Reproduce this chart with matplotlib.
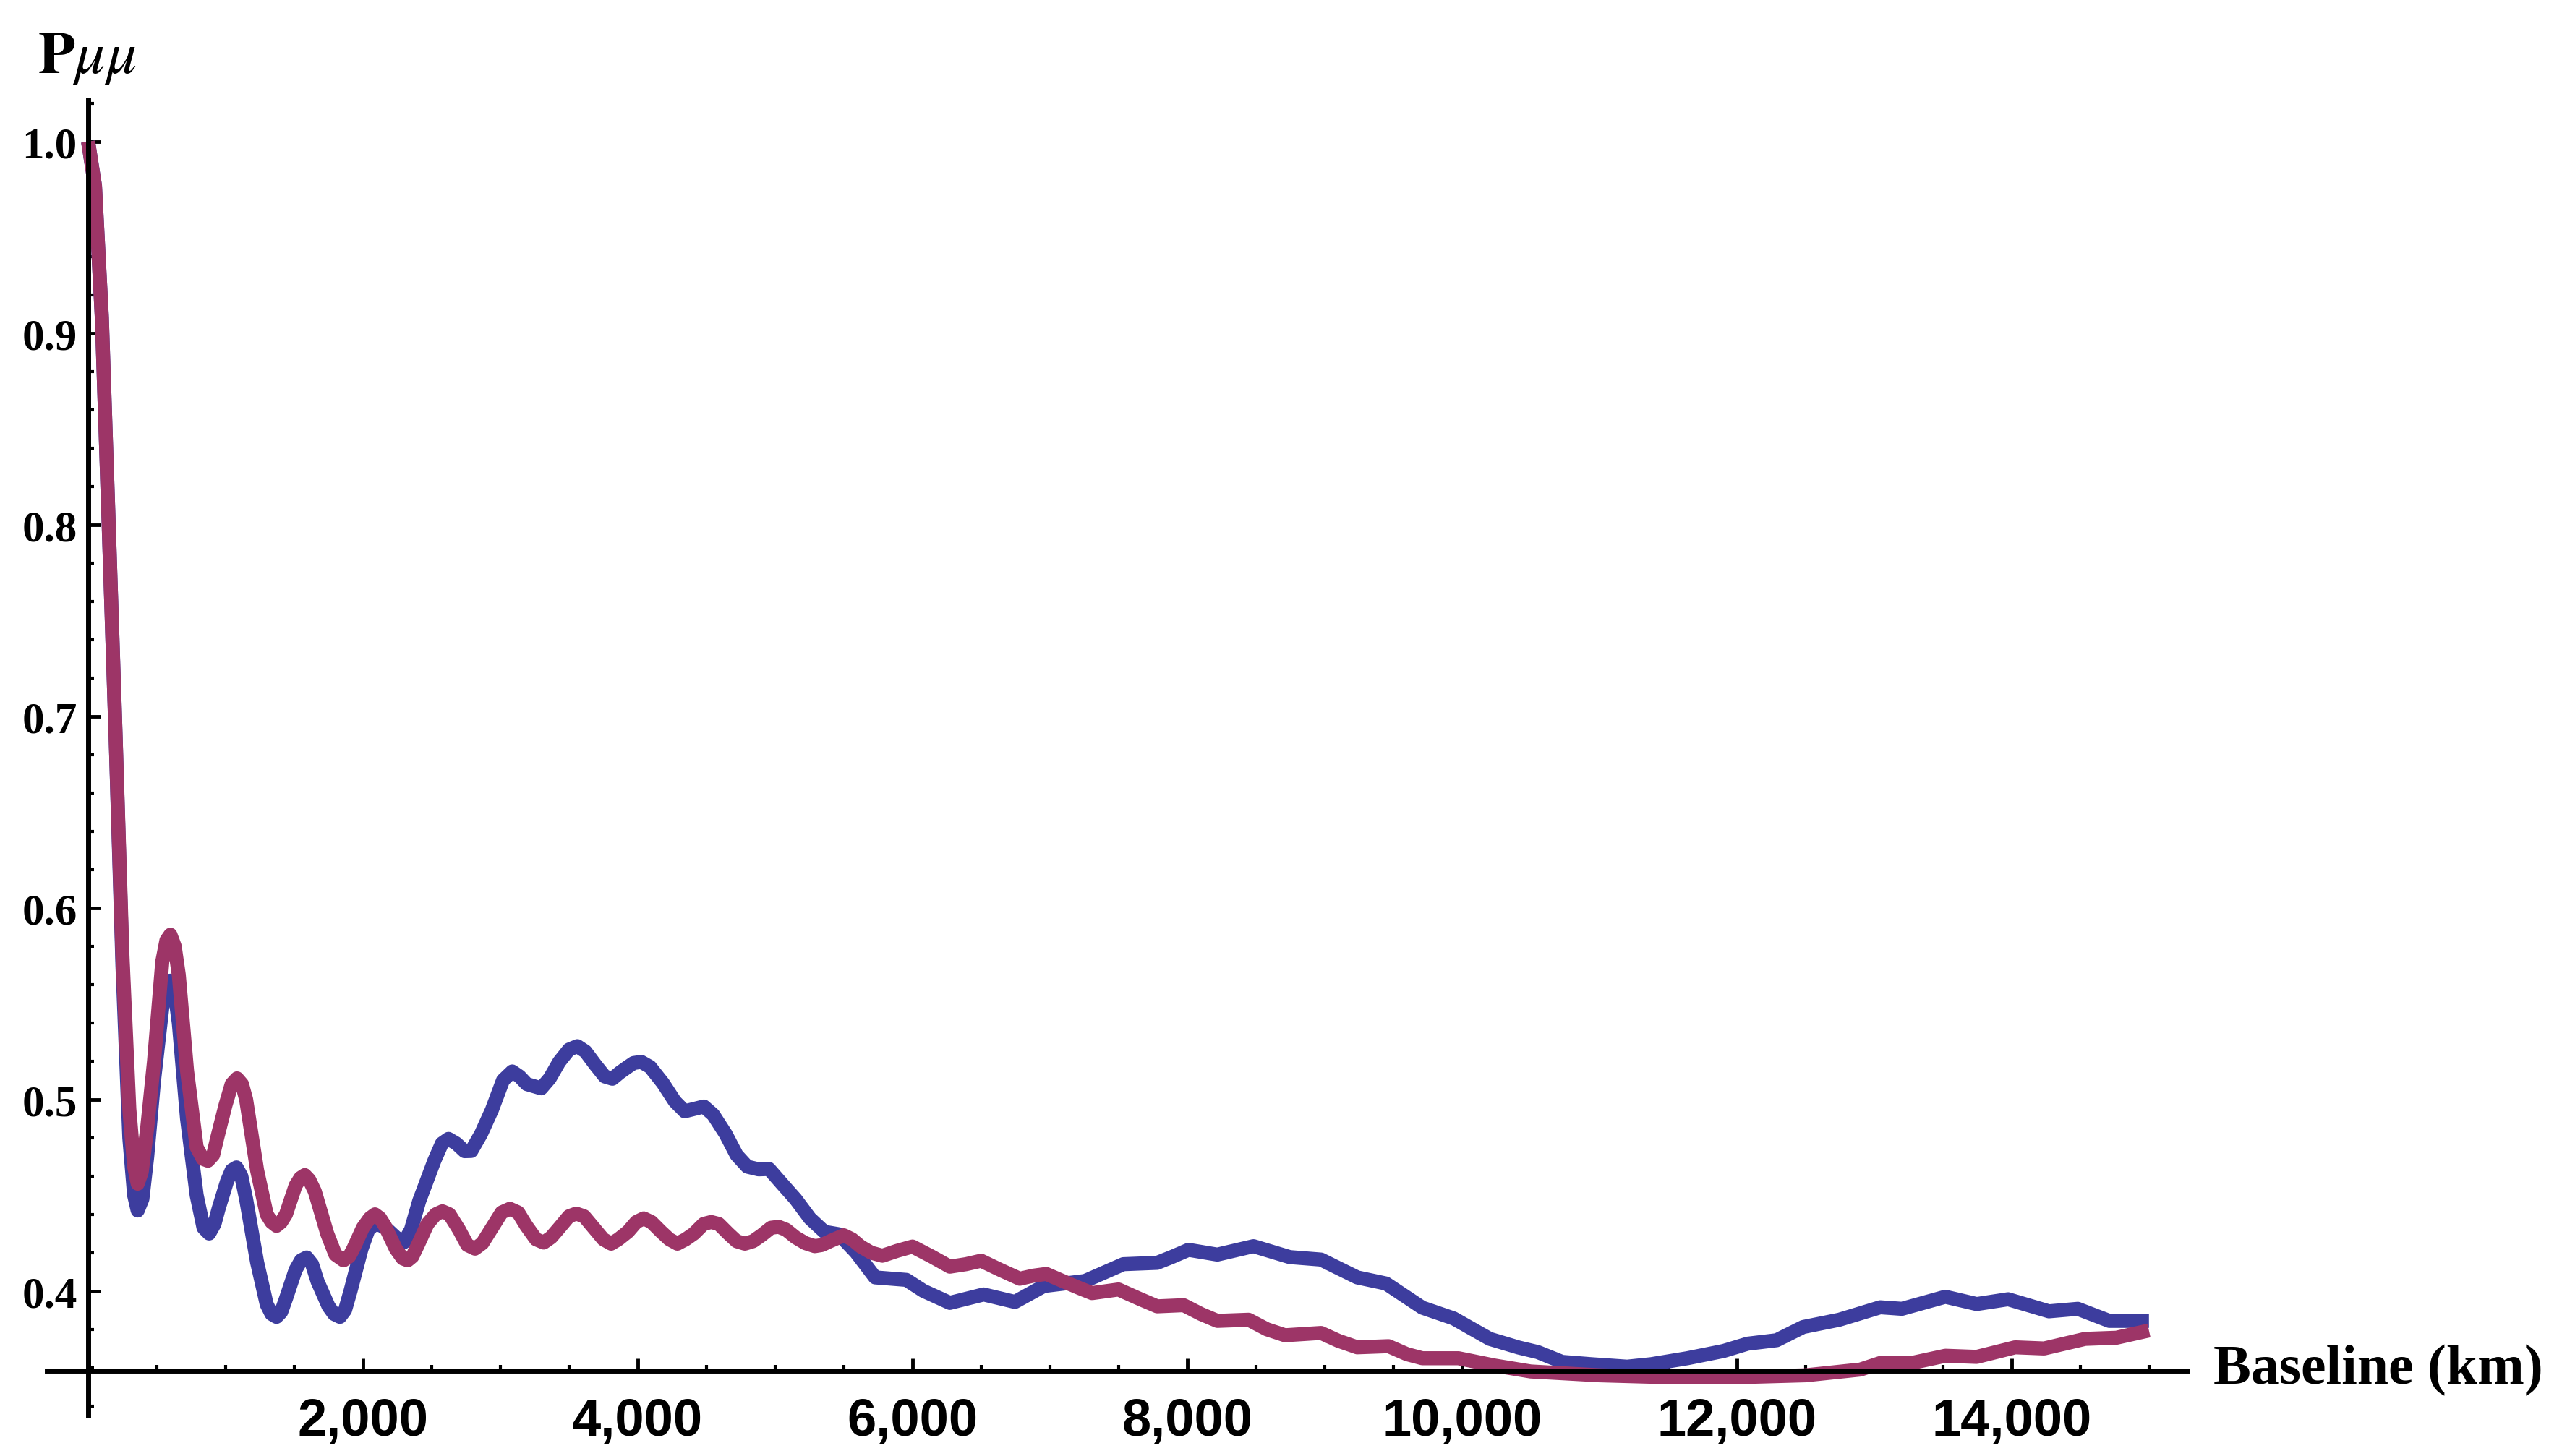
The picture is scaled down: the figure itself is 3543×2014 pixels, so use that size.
import matplotlib
matplotlib.use("Agg")
import matplotlib.pyplot as plt
from matplotlib.ticker import MultipleLocator, FixedLocator, FuncFormatter

# baseline (km) and survival probability
red_x = [0, 50, 100, 150, 200, 250, 300, 335, 361, 390, 430, 480, 540, 570, 599, 630,
         660, 720, 790, 835, 872, 910, 940, 1000, 1045, 1084, 1120, 1150, 1230, 1300,
         1335, 1371, 1405, 1440, 1510, 1545, 1577, 1610, 1650, 1740, 1800, 1859, 1900,
         1930, 2000, 2050, 2088, 2125, 2160, 2240, 2290, 2326, 2360, 2400, 2470, 2530,
         2579, 2630, 2700, 2760, 2816, 2870, 2940, 3010, 3070, 3130, 3190, 3260, 3316,
         3370, 3430, 3500, 3553, 3610, 3680, 3750, 3807, 3860, 3930, 3990, 4044, 4100,
         4170, 4230, 4289, 4350, 4410, 4480, 4535, 4590, 4660, 4720, 4780, 4840, 4900,
         4970, 5026, 5080, 5149, 5220, 5289, 5340, 5400, 5500, 5560, 5623, 5700, 5781,
         5890, 6000, 6140, 6272, 6390, 6500, 6640, 6781, 6880, 6974, 7100, 7220, 7307,
         7500, 7650, 7781, 7974, 8100, 8219, 8447, 8580, 8711, 8974, 9100, 9237, 9465,
         9600, 9711, 9974, 10237, 10500, 11000, 11500, 12000, 12500, 12900, 13044, 13272,
         13518, 13746, 14026, 14237, 14535, 14763, 15000]
red_y = [1.000, 0.977, 0.908, 0.800, 0.690, 0.575, 0.495, 0.465, 0.456, 0.462, 0.485,
         0.520, 0.572, 0.583, 0.586, 0.580, 0.565, 0.515, 0.475, 0.469, 0.468, 0.471,
         0.480, 0.497, 0.508, 0.511, 0.508, 0.500, 0.463, 0.440, 0.436, 0.434, 0.436,
         0.440, 0.455, 0.459, 0.4605, 0.458, 0.452, 0.430, 0.419, 0.416, 0.418, 0.422,
         0.433, 0.438, 0.440, 0.438, 0.434, 0.422, 0.417, 0.416, 0.418, 0.424, 0.435,
         0.440, 0.4416, 0.440, 0.432, 0.424, 0.4221, 0.425, 0.433, 0.441, 0.4429, 0.441,
         0.434, 0.427, 0.4253, 0.428, 0.433, 0.439, 0.4404, 0.439, 0.433, 0.427, 0.4247,
         0.427, 0.431, 0.436, 0.4379, 0.436, 0.431, 0.427, 0.4247, 0.427, 0.430, 0.435,
         0.4360, 0.435, 0.430, 0.426, 0.4247, 0.426, 0.429, 0.433, 0.4335, 0.432, 0.428,
         0.425, 0.4234, 0.424, 0.426, 0.4291, 0.427, 0.4232, 0.420, 0.4184, 0.421, 0.4232,
         0.418, 0.4127, 0.414, 0.4158, 0.411, 0.4064, 0.408, 0.4089, 0.405, 0.4014,
         0.3989, 0.4008, 0.396, 0.3920, 0.3926, 0.388, 0.3844, 0.3850, 0.380, 0.3769,
         0.3781, 0.374, 0.3706, 0.3712, 0.367, 0.3649, 0.3649, 0.3611, 0.358, 0.356,
         0.355, 0.355, 0.356, 0.359, 0.3624, 0.3624, 0.3662, 0.3656, 0.3706, 0.3700,
         0.3750, 0.3756, 0.3794]

blue_x = [0, 50, 100, 150, 200, 250, 300, 335, 361, 395, 430, 480, 540, 570, 599, 630,
          660, 720, 790, 840, 881, 920, 950, 1010, 1045, 1080, 1115, 1150, 1230, 1300,
          1335, 1371, 1405, 1440, 1510, 1550, 1591, 1630, 1670, 1750, 1790, 1833, 1870,
          1910, 1990, 2040, 2088, 2140, 2180, 2240, 2300, 2350, 2410, 2520, 2575, 2623,
          2680, 2740, 2789, 2860, 2939, 3020, 3087, 3140, 3193, 3298, 3360, 3429, 3500,
          3561, 3620, 3693, 3760, 3816, 3870, 3921, 3970, 4026, 4090, 4184, 4270, 4342,
          4410, 4482, 4550, 4640, 4720, 4798, 4880, 4956, 5050, 5149, 5254, 5359, 5465,
          5588, 5728, 5956, 6079, 6272, 6518, 6746, 6956, 7255, 7535, 7781, 7886, 8009,
          8219, 8482, 8746, 8974, 9237, 9447, 9711, 9939, 10202, 10412, 10552, 10728,
          10939, 11202, 11377, 11640, 11904, 12079, 12290, 12483, 12746, 13044, 13202,
          13518, 13746, 13975, 14272, 14482, 14711, 15000]
blue_y = [1.000, 0.977, 0.908, 0.800, 0.690, 0.570, 0.480, 0.450, 0.442, 0.448, 0.470,
          0.510, 0.548, 0.558, 0.562, 0.556, 0.540, 0.490, 0.450, 0.433, 0.430, 0.435,
          0.443, 0.457, 0.463, 0.4645, 0.460, 0.448, 0.415, 0.393, 0.388, 0.3865, 0.389,
          0.396, 0.411, 0.416, 0.4175, 0.414, 0.405, 0.392, 0.388, 0.3865, 0.390, 0.400,
          0.422, 0.432, 0.435, 0.434, 0.432, 0.428, 0.4255, 0.432, 0.447, 0.468, 0.477,
          0.4794, 0.477, 0.473, 0.4731, 0.482, 0.4945, 0.510, 0.5146, 0.512, 0.508,
          0.5058, 0.511, 0.5196, 0.526, 0.5278, 0.525, 0.518, 0.512, 0.5108, 0.514,
          0.5166, 0.519, 0.5196, 0.517, 0.5085, 0.499, 0.4938, 0.495, 0.4963, 0.492,
          0.482, 0.471, 0.4649, 0.4635, 0.4637, 0.456, 0.448, 0.4379, 0.4309, 0.4296,
          0.4203, 0.4071, 0.4058, 0.4001, 0.3938, 0.3982, 0.3943, 0.4026, 0.4052, 0.4140,
          0.4147, 0.4177, 0.4215, 0.4190, 0.4234, 0.4177, 0.4164, 0.4071, 0.4039, 0.3913,
          0.3857, 0.3750, 0.3705, 0.3681, 0.3630, 0.3618, 0.3605, 0.3618, 0.3649, 0.3687,
          0.3725, 0.3743, 0.3812, 0.3850, 0.3915, 0.3907, 0.3970, 0.3932, 0.3957, 0.3894,
          0.3907, 0.3844, 0.3844]

y_ticks = [0.4, 0.5, 0.6, 0.7, 0.8, 0.9, 1.0]
x_ticks = [2000, 4000, 6000, 8000, 10000, 12000, 14000]

fig = plt.figure(figsize=(35.43, 20.15), dpi=100)
ax = fig.add_axes([0.0183, 0.0278, 0.8355, 0.9034])

ax.plot(blue_x, blue_y, color='#3d3d9e', lw=14, solid_capstyle='butt', solid_joinstyle='round', zorder=2)
ax.plot(red_x, red_y, color='#9d3567', lw=14, solid_capstyle='butt', solid_joinstyle='round', zorder=2.1)

ax.set_xlim(-300, 15280)
ax.set_ylim(0.335, 1.022)

# mathematica style axes crossing at (0, 0.3585)
for s in ['top', 'right']:
    ax.spines[s].set_visible(False)
ax.spines['left'].set_position(('data', 0))
ax.spines['bottom'].set_position(('data', 0.3585))
for s in ['left', 'bottom']:
    ax.spines[s].set_linewidth(5)
    ax.spines[s].set_zorder(5)

ax.xaxis.set_major_locator(FixedLocator(x_ticks))
ax.xaxis.set_minor_locator(MultipleLocator(500))
ax.yaxis.set_major_locator(FixedLocator(y_ticks))
ax.yaxis.set_minor_locator(MultipleLocator(0.02))
ax.xaxis.set_major_formatter(FuncFormatter(lambda v, p: f'{int(v):,}'))
ax.yaxis.set_major_formatter(FuncFormatter(lambda v, p: f'{v:.1f}'))

ax.tick_params(which='both', direction='in', color='black')
ax.tick_params(which='major', length=12, width=3.5)
ax.tick_params(which='minor', length=6, width=3)
ax.tick_params(axis='x', which='major', pad=26)
ax.tick_params(axis='y', which='major', pad=11)

for lab in ax.get_xticklabels():
    lab.set_fontfamily(['Liberation Sans Narrow', 'Liberation Sans'])
    lab.set_fontweight('bold')
    lab.set_fontsize(52)
for lab in ax.get_yticklabels():
    lab.set_fontfamily('Liberation Serif')
    lab.set_fontweight('bold')
    lab.set_fontsize(44)

plt.rcParams['mathtext.fontset'] = 'stix'
fig.text(0.0147, 0.950, r'$\mathbf{P}\mu\mu$', fontsize=60, ha='left', va='baseline')
fig.text(0.864, 0.059, 'Baseline (km)', fontfamily='Liberation Serif', fontweight='bold',
         fontsize=56, ha='left', va='center')

fig.savefig('out.png', dpi=100)
